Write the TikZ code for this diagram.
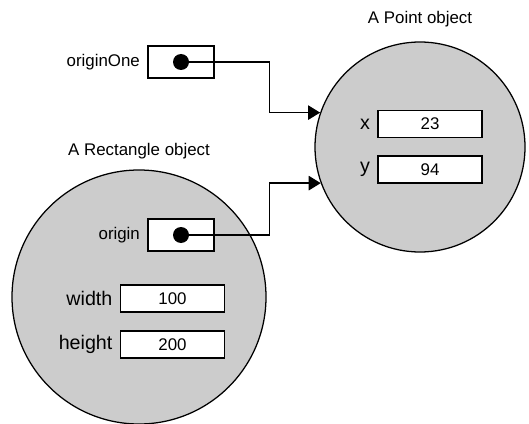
\documentclass[tikz,border=0pt]{standalone}
\usepackage{fontspec}
\setmainfont{Liberation Sans}
\usepackage{tikz}
\usetikzlibrary{positioning,arrows.meta}

\definecolor{objgray}{RGB}{204,204,204}

\tikzset{
  object/.style={circle,draw,fill=objgray,line width=0.9pt,inner sep=0pt},
  objtitle/.style={inner sep=0pt},
  field/.style={rectangle,draw,fill=white,line width=0.9pt,inner sep=0pt,
    minimum width=2.6cm,minimum height=0.67cm},
  fieldname/.style={inner sep=0pt,font=\fontsize{14}{16}\selectfont},
  refbox/.style={rectangle,draw,fill=white,line width=0.9pt,inner sep=0pt,
    minimum width=1.65cm,minimum height=0.8cm},
  refdot/.style={circle,fill=black,inner sep=0pt,minimum size=0.4cm},
  refname/.style={inner sep=0pt},
  ref/.style={->,line width=0.9pt}
}

\begin{document}
\begin{tikzpicture}[>={Triangle[length=0.3cm,width=0.36cm]},
    every node/.style={font=\fontsize{12}{14}\selectfont}]
  \useasboundingbox (0,0) rectangle (13.225,-10.6);

  % the two objects
  \node[object, minimum size=5.25cm] (pt) at (10.5,-3.675) {};
  \node[objtitle, above=0.35cm of pt] (pt_t) {A Point object};

  \node[object, minimum size=6.35cm] (rect) at (3.475,-7.425) {};
  \node[objtitle, above=0.25cm of rect] (rect_t) {A Rectangle object};

  % fields of the point
  \node[field] (x_f) at (10.75,-3.1) {23};
  \node[fieldname, left=0.18cm of x_f] (x_l) {x};
  \node[field] (y_f) at (10.75,-4.2375) {94};
  \node[fieldname, left=0.18cm of y_f] (y_l) {y};

  % fields of the rectangle
  \node[field] (w_f) at (4.3125,-7.4625) {100};
  \node[fieldname, left=0.18cm of w_f] (w_l) {width};
  \node[field] (h_f) at (4.3125,-8.6125) {200};
  \node[fieldname, left=0.18cm of h_f] (h_l) {height};

  % references
  \node[refbox] (one_b) at (4.525,-1.55) {};
  \node[refdot] (one_d) at (one_b) {};
  \node[refname, left=0.18cm of one_b] (one_l) {originOne};

  \node[refbox] (org_b) at (4.525,-5.875) {};
  \node[refdot] (org_d) at (org_b) {};
  \node[refname, left=0.18cm of org_b] (org_l) {origin};

  %%%%

  \draw[ref] (one_d.center) -| ([xshift=-1.27cm]pt.161) -- (pt.161);
  \draw[ref] (org_d.center) -| ([xshift=-1.28cm]pt.200) -- (pt.200);

\end{tikzpicture}
\end{document}
